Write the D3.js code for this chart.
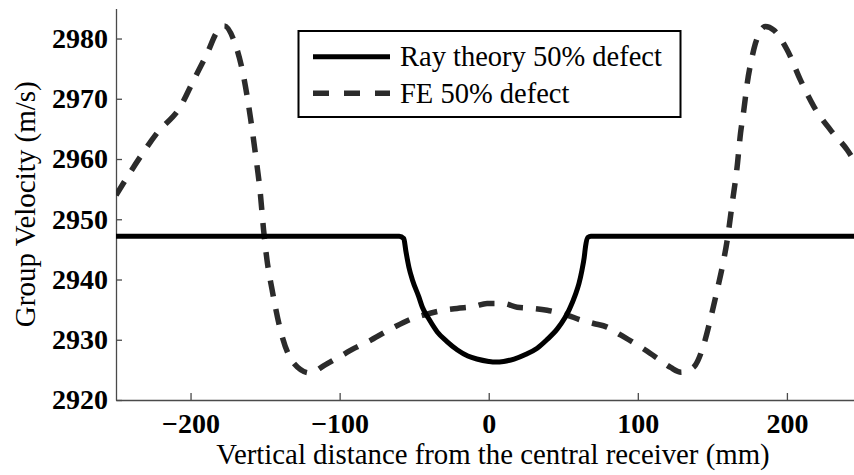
<!DOCTYPE html>
<html>
<head>
<meta charset="utf-8">
<script src="https://cdn.jsdelivr.net/npm/d3@7/dist/d3.min.js"></script>
<style>
  html, body { margin: 0; padding: 0; background: #fff; }
  svg { display: block; }
  svg text { font-family: "Liberation Serif", Tinos, "Times New Roman", Times, "DejaVu Serif", serif; }
</style>
</head>
<body>
<svg id="chart" width="854" height="475"></svg>
<script>
// ---- data ----
const xTicks = [-200, -100, 0, 100, 200];
const yTicks = [2920, 2930, 2940, 2950, 2960, 2970, 2980];
const seriesNames = ["Ray theory 50% defect", "FE 50% defect"];

const rayX = [-250, -60, -57, -55.5, -53.5, -51, -47, -44.5, -40, -34.5, -28, -21, -14, -8, 0, 4.5, 10, 17, 25, 32.5, 39, 46, 51, 54, 58, 60.5, 62.5, 64, 65, 66.5, 68.5, 245];
const rayY = [2947.2, 2947.2, 2946.8, 2944.6, 2942.0, 2939.8, 2937.2, 2935.4, 2933.4, 2931.3, 2929.7, 2928.3, 2927.3, 2926.8, 2926.4, 2926.3, 2926.4, 2926.8, 2927.6, 2928.6, 2930.0, 2931.8, 2933.6, 2935.0, 2937.4, 2939.3, 2941.5, 2943.6, 2945.6, 2947.0, 2947.2, 2947.2];

const feX = [-250, -243.7, -233.6, -222.5, -206.8, -197.9, -188.9, -182.2, -177.3, -171.1, -164.4, -159.9, -156.5, -153.2, -151.0, -148.7, -145.3, -139.7, -130.8, -120, -110, -100, -90, -80, -70, -62.6, -50.3, -43.6, -30.2, -21.2, -10.1, -1.1, 10.1, 19.1, 30.2, 39.2, 52.6, 61.5, 70.4, 79.4, 88.4, 93.9, 105, 115, 122, 129, 134, 138.6, 144, 148.6, 153, 157, 160, 163.3, 166.6, 168.9, 171.1, 173.4, 176.7, 178.9, 185.6, 191.2, 200.2, 209.1, 218.1, 229.3, 240.5, 245];
const feY = [2954.0, 2956.5, 2960.4, 2964.3, 2968.7, 2973.1, 2977.5, 2981.1, 2982.1, 2979.8, 2973.7, 2967.0, 2960.9, 2954.3, 2948.2, 2943.2, 2938.3, 2931.6, 2926.1, 2924.5, 2925.8, 2927.2, 2928.6, 2929.8, 2931.2, 2932.2, 2933.6, 2934.1, 2934.9, 2935.2, 2935.5, 2936.0, 2936.0, 2935.4, 2935.2, 2934.9, 2934.1, 2933.3, 2932.7, 2932.1, 2930.8, 2930.0, 2928.3, 2926.6, 2925.4, 2924.6, 2925.0, 2925.8, 2929.0, 2933.3, 2938.0, 2942.5, 2946.6, 2952.6, 2958.7, 2964.3, 2968.1, 2972.6, 2977.0, 2979.2, 2982.0, 2981.4, 2978.1, 2973.1, 2968.7, 2964.8, 2961.5, 2959.8];

// ---- layout ----
const svg = d3.select("#chart");
const mLeft = 116, mRight = 854, mTop = 8.4, mBottom = 400;

const x = d3.scaleLinear().domain([-250, 245]).range([mLeft, mRight]);
const y = d3.scaleLinear().domain([2920, 2985]).range([mBottom, mTop]);

svg.append("rect").attr("width", 854).attr("height", 475).attr("fill", "#fff");

svg.append("clipPath").attr("id", "clip")
  .append("rect").attr("x", mLeft).attr("y", 0).attr("width", mRight - mLeft).attr("height", mBottom);

// axes
const axisColor = "#4a4a4a";
const gx = svg.append("g").attr("transform", `translate(0,${mBottom})`)
  .call(d3.axisBottom(x).tickValues(xTicks).tickFormat(d3.format("d"))
    .tickSizeInner(-7).tickSizeOuter(0).tickPadding(8));
const gy = svg.append("g").attr("transform", `translate(${mLeft},0)`)
  .call(d3.axisLeft(y).tickValues(yTicks).tickFormat(d3.format("d"))
    .tickSizeInner(-6).tickSizeOuter(0).tickPadding(8));

[gx, gy].forEach(g => {
  g.attr("font-family", null).attr("font-size", null);
  g.select(".domain").attr("stroke", axisColor).attr("stroke-width", 1.3);
  g.selectAll(".tick line").attr("stroke", axisColor).attr("stroke-width", 1.3);
  g.selectAll("text").style("font-size", "28px").style("font-weight", "bold").attr("fill", "#000");
});
gx.selectAll("text").attr("dy", null).attr("y", 33);

// axis titles
svg.append("text")
  .attr("x", 493).attr("y", 464)
  .attr("text-anchor", "middle")
  .style("font-size", "28.8px").attr("fill", "#000")
  .text("Vertical distance from the central receiver (mm)");

svg.append("text")
  .attr("transform", `translate(35,${(mTop + mBottom) / 2}) rotate(-90)`)
  .attr("text-anchor", "middle")
  .style("font-size", "29px").attr("fill", "#000")
  .text("Group Velocity (m/s)");

// lines
const plot = svg.append("g").attr("clip-path", "url(#clip)");
const line = d3.line().x(d => x(d[0])).y(d => y(d[1])).curve(d3.curveMonotoneX);

const rayData = rayX.map((v, i) => [v, rayY[i]]);
const feData = feX.map((v, i) => [v, feY[i]]);

plot.append("path").datum(feData)
  .attr("d", line).attr("fill", "none")
  .attr("stroke", "#2b2b2b").attr("stroke-width", 5.5)
  .attr("stroke-dasharray", "16,13");

plot.append("path").datum(rayData)
  .attr("d", line).attr("fill", "none")
  .attr("stroke", "#000").attr("stroke-width", 5)
  .attr("stroke-linejoin", "round");

// legend
const lg = svg.append("g");
lg.append("rect").attr("x", 298.5).attr("y", 31).attr("width", 382).attr("height", 86)
  .attr("fill", "#fff").attr("stroke", "#000").attr("stroke-width", 2);
const rows = [56.7, 93.3];
lg.append("line").attr("x1", 313).attr("x2", 390).attr("y1", rows[0]).attr("y2", rows[0])
  .attr("stroke", "#000").attr("stroke-width", 5);
lg.append("line").attr("x1", 313).attr("x2", 390).attr("y1", rows[1]).attr("y2", rows[1])
  .attr("stroke", "#2b2b2b").attr("stroke-width", 5.5).attr("stroke-dasharray", "16,15");
seriesNames.forEach((n, i) => {
  lg.append("text").attr("x", 400).attr("y", rows[i] + 9.5)
    .style("font-size", "28.5px").attr("fill", "#000")
    .text(n);
});
</script>
</body>
</html>
